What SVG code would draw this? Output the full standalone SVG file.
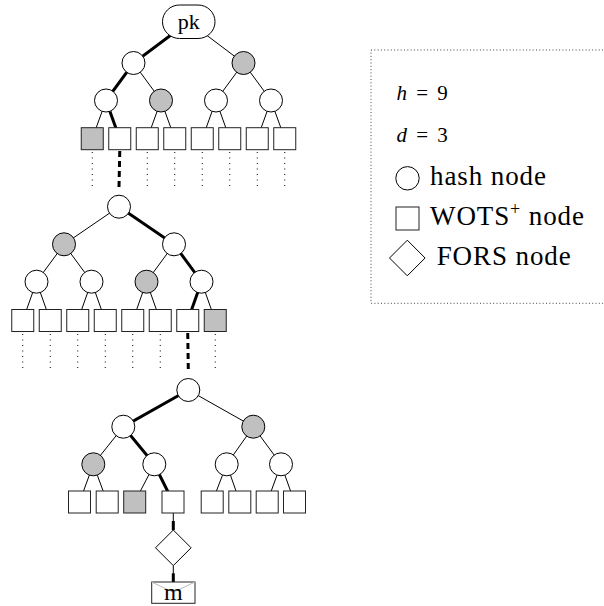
<svg xmlns="http://www.w3.org/2000/svg" width="604" height="606" viewBox="0 0 604 606">
<style>
.c{fill:#fff;stroke:#000;stroke-width:1}
.s{fill:#fff;stroke:#222;stroke-width:1}
.g{fill:#c0c0c0}
.e{stroke:#000;stroke-width:1;fill:none}
.t{stroke:#000;stroke-width:3;fill:none}
.d{stroke:#000;stroke-width:3;stroke-dasharray:6 4;fill:none}
.o{stroke:#000;stroke-width:1;stroke-dasharray:1 4.5;fill:none}
text{font-family:"Liberation Serif","Times New Roman",serif;fill:#000}
.lg{font-size:27px;letter-spacing:0.9px}
.mt{font-size:21px;word-spacing:4px}
</style>
<defs>
<circle id="hn" r="11.5"/>
</defs>
<g id="connectors">
<!-- top tree thin -->
<line class="e" x1="188.7" y1="21.7" x2="243.5" y2="63"/>
<line class="e" x1="133.5" y1="63" x2="161" y2="100.5"/>
<line class="e" x1="243.5" y1="63" x2="216" y2="100.5"/>
<line class="e" x1="243.5" y1="63" x2="271" y2="100.5"/>
<line class="e" x1="106" y1="100.5" x2="92.25" y2="138.7"/>
<line class="e" x1="161" y1="100.5" x2="147.25" y2="138.7"/>
<line class="e" x1="161" y1="100.5" x2="174.75" y2="138.7"/>
<line class="e" x1="216" y1="100.5" x2="202.25" y2="138.7"/>
<line class="e" x1="216" y1="100.5" x2="229.75" y2="138.7"/>
<line class="e" x1="271" y1="100.5" x2="257.25" y2="138.7"/>
<line class="e" x1="271" y1="100.5" x2="284.75" y2="138.7"/>
<!-- top tree path -->
<polyline class="t" points="188.7,21.7 133.5,63 106,100.5 119.75,138.7"/>
<!-- top tree dotted -->
<line class="o" x1="92.25" y1="152" x2="92.25" y2="186"/>
<line class="o" x1="147.25" y1="152" x2="147.25" y2="186"/>
<line class="o" x1="174.75" y1="152" x2="174.75" y2="186"/>
<line class="o" x1="202.25" y1="152" x2="202.25" y2="186"/>
<line class="o" x1="229.75" y1="152" x2="229.75" y2="186"/>
<line class="o" x1="257.25" y1="152" x2="257.25" y2="186"/>
<line class="o" x1="284.75" y1="152" x2="284.75" y2="186"/>
<line class="d" x1="119.75" y1="151" x2="119" y2="187"/>
<!-- middle tree thin -->
<line class="e" x1="119" y1="206.7" x2="64" y2="244.3"/>
<line class="e" x1="64" y1="244.3" x2="36.5" y2="281.7"/>
<line class="e" x1="64" y1="244.3" x2="91.5" y2="281.7"/>
<line class="e" x1="174" y1="244.3" x2="146.5" y2="281.7"/>
<line class="e" x1="36.5" y1="281.7" x2="22.75" y2="320.5"/>
<line class="e" x1="36.5" y1="281.7" x2="50.25" y2="320.5"/>
<line class="e" x1="91.5" y1="281.7" x2="77.75" y2="320.5"/>
<line class="e" x1="91.5" y1="281.7" x2="105.25" y2="320.5"/>
<line class="e" x1="146.5" y1="281.7" x2="132.75" y2="320.5"/>
<line class="e" x1="146.5" y1="281.7" x2="160.25" y2="320.5"/>
<line class="e" x1="201.5" y1="281.7" x2="215.25" y2="320.5"/>
<polyline class="t" points="119,206.7 174,244.3 201.5,281.7 187.75,320.5"/>
<line class="o" x1="22.75" y1="334" x2="22.75" y2="368"/>
<line class="o" x1="50.25" y1="334" x2="50.25" y2="368"/>
<line class="o" x1="77.75" y1="334" x2="77.75" y2="368"/>
<line class="o" x1="105.25" y1="334" x2="105.25" y2="368"/>
<line class="o" x1="132.75" y1="334" x2="132.75" y2="368"/>
<line class="o" x1="160.25" y1="334" x2="160.25" y2="368"/>
<line class="o" x1="215.25" y1="334" x2="215.25" y2="368"/>
<line class="d" x1="187.75" y1="333" x2="188.3" y2="369"/>
<!-- bottom tree thin -->
<line class="e" x1="188.3" y1="390" x2="253.3" y2="426.7"/>
<line class="e" x1="123.3" y1="426.7" x2="93.3" y2="464.3"/>
<line class="e" x1="253.3" y1="426.7" x2="226.7" y2="464.3"/>
<line class="e" x1="253.3" y1="426.7" x2="281" y2="464.3"/>
<line class="e" x1="93.3" y1="464.3" x2="79.5" y2="502"/>
<line class="e" x1="93.3" y1="464.3" x2="107.2" y2="502"/>
<line class="e" x1="154.3" y1="464.3" x2="134.7" y2="502"/>
<line class="e" x1="226.7" y1="464.3" x2="212.2" y2="502"/>
<line class="e" x1="226.7" y1="464.3" x2="239.8" y2="502"/>
<line class="e" x1="281" y1="464.3" x2="267.2" y2="502"/>
<line class="e" x1="281" y1="464.3" x2="294.5" y2="502"/>
<polyline class="t" points="188.3,390 123.3,426.7 154.3,464.3 173,502"/>
<!-- FORS chain -->
<line class="e" x1="173.3" y1="513" x2="173.3" y2="530"/>
<line class="t" x1="173.3" y1="521" x2="173.3" y2="530"/>
<line class="e" x1="173.3" y1="565.6" x2="173.3" y2="582"/>
<line class="t" x1="173.3" y1="573.3" x2="173.3" y2="582"/>
</g>
<g id="pk">
<rect class="c" x="162.5" y="5" width="52.5" height="33.5" rx="17" ry="16.7"/>
<text x="188.7" y="28.5" font-size="22" text-anchor="middle">pk</text>
</g>
<g id="top-hash">
<use href="#hn" class="c" x="133.5" y="63"/>
<use href="#hn" class="c g" x="243.5" y="63"/>
<use href="#hn" class="c" x="106" y="100.5"/>
<use href="#hn" class="c g" x="161" y="100.5"/>
<use href="#hn" class="c" x="216" y="100.5"/>
<use href="#hn" class="c" x="271" y="100.5"/>
</g>
<g id="top-wots">
<rect class="s g" x="81.25" y="127.7" width="22" height="22"/>
<rect class="s" x="108.75" y="127.7" width="22" height="22"/>
<rect class="s" x="136.25" y="127.7" width="22" height="22"/>
<rect class="s" x="163.75" y="127.7" width="22" height="22"/>
<rect class="s" x="191.25" y="127.7" width="22" height="22"/>
<rect class="s" x="218.75" y="127.7" width="22" height="22"/>
<rect class="s" x="246.25" y="127.7" width="22" height="22"/>
<rect class="s" x="273.75" y="127.7" width="22" height="22"/>
</g>
<g id="mid-hash">
<use href="#hn" class="c" x="119" y="206.7"/>
<use href="#hn" class="c g" x="64" y="244.3"/>
<use href="#hn" class="c" x="174" y="244.3"/>
<use href="#hn" class="c" x="36.5" y="281.7"/>
<use href="#hn" class="c" x="91.5" y="281.7"/>
<use href="#hn" class="c g" x="146.5" y="281.7"/>
<use href="#hn" class="c" x="201.5" y="281.7"/>
</g>
<g id="mid-wots">
<rect class="s" x="11.75" y="309.5" width="22" height="22"/>
<rect class="s" x="39.25" y="309.5" width="22" height="22"/>
<rect class="s" x="66.75" y="309.5" width="22" height="22"/>
<rect class="s" x="94.25" y="309.5" width="22" height="22"/>
<rect class="s" x="121.75" y="309.5" width="22" height="22"/>
<rect class="s" x="149.25" y="309.5" width="22" height="22"/>
<rect class="s" x="176.75" y="309.5" width="22" height="22"/>
<rect class="s g" x="204.25" y="309.5" width="22" height="22"/>
</g>
<g id="bot-hash">
<use href="#hn" class="c" x="188.3" y="390"/>
<use href="#hn" class="c" x="123.3" y="426.7"/>
<use href="#hn" class="c g" x="253.3" y="426.7"/>
<use href="#hn" class="c g" x="93.3" y="464.3"/>
<use href="#hn" class="c" x="154.3" y="464.3"/>
<use href="#hn" class="c" x="226.7" y="464.3"/>
<use href="#hn" class="c" x="281" y="464.3"/>
</g>
<g id="bot-wots">
<rect class="s" x="68.5" y="491" width="22" height="22"/>
<rect class="s" x="96.2" y="491" width="22" height="22"/>
<rect class="s g" x="123.7" y="491" width="22" height="22"/>
<rect class="s" x="162" y="491" width="22" height="22"/>
<rect class="s" x="201.2" y="491" width="22" height="22"/>
<rect class="s" x="228.8" y="491" width="22" height="22"/>
<rect class="s" x="256.2" y="491" width="22" height="22"/>
<rect class="s" x="283.5" y="491" width="22" height="22"/>
</g>
<g id="fors">
<polygon class="c" points="173.3,530 191.1,547.8 173.3,565.6 155.5,547.8"/>
</g>
<g id="message">
<rect class="s" x="151.7" y="582" width="43.3" height="21.3"/>
<polyline points="151.7,582 173.3,592.3 195,582" fill="none" stroke="#bbb" stroke-width="1"/>
<text x="173.3" y="600" font-size="24" text-anchor="middle">m</text>
</g>
<g id="legend">
<rect x="371" y="50" width="260" height="253.3" fill="none" stroke="#444" stroke-width="1" stroke-dasharray="1 2.3"/>
<text class="mt" x="396.5" y="100"><tspan font-style="italic">h</tspan> = 9</text>
<text class="mt" x="396.5" y="141.5"><tspan font-style="italic">d</tspan> = 3</text>
<circle class="c" cx="407.5" cy="178.3" r="11.7"/>
<text class="lg" x="430" y="185">hash node</text>
<rect class="s" x="396" y="207" width="23" height="23"/>
<text class="lg" x="430" y="225">WOTS<tspan font-size="18" dy="-10">+</tspan><tspan dy="10"> node</tspan></text>
<polygon class="c" points="407.3,240.2 425.1,258 407.3,275.8 389.5,258"/>
<text class="lg" x="436.7" y="265">FORS node</text>
</g>
</svg>
